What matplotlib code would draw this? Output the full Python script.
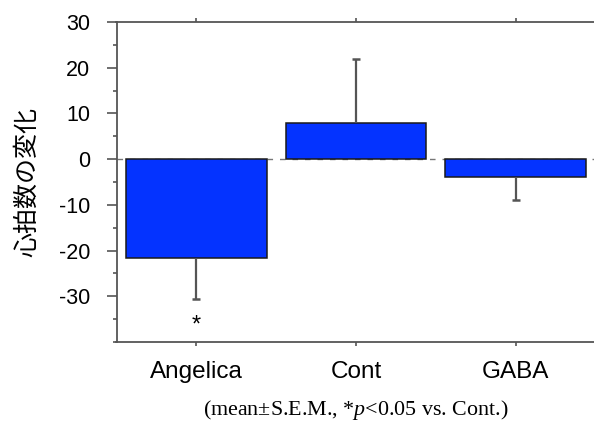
import matplotlib
matplotlib.use('Agg')
import matplotlib.pyplot as plt
from matplotlib.ticker import MultipleLocator

plt.rcParams['font.family'] = ['Liberation Sans', 'Noto Sans CJK JP', 'DejaVu Sans']
plt.rcParams['mathtext.fontset'] = 'custom'
plt.rcParams['mathtext.rm'] = 'Liberation Serif'
plt.rcParams['mathtext.it'] = 'Liberation Serif:italic'

# data
groups = ['Angelica', 'Cont', 'GABA']
means = [-21.7, 8.0, -3.8]
sems = [9.0, 13.9, 5.1]
signif = ['*', '', '']
ylabel = '心拍数の変化'
footnote = '(mean±S.E.M., *$\\it{p}$<0.05 vs. Cont.)'

BAR = '#0433FF'
AXC = '#555555'

fig = plt.figure(figsize=(5.94, 4.25), dpi=100)
ax = fig.add_axes([116.5 / 594, 83 / 425, 479 / 594, 320 / 425])

x = list(range(len(groups)))
ax.axhline(0, color='#777777', lw=1.0, ls=(0, (4, 5)), zorder=1)
ax.bar(x, means, width=0.88, color=BAR, edgecolor='#1a1a1a', linewidth=1.1, zorder=2)

# one-sided error bars (away from zero)
ends = [m + s if m > 0 else m - s for m, s in zip(means, sems)]
ax.vlines(x, means, ends, color='#555555', lw=1.6, zorder=3)
ax.plot(x, ends, ls='none', marker='_', ms=6, mew=1.8, color='#555555', zorder=3)

for xi, s in zip(x, signif):
    if s:
        ax.text(xi, -36.3, s, ha='center', va='center', fontsize=17, zorder=4)

ax.set_xlim(-0.5, 2.5)
ax.set_ylim(-40, 30)
ax.set_xticks(x)
ax.set_xticklabels(groups, fontsize=17.5)
ax.set_yticks([-30, -20, -10, 0, 10, 20, 30])
ax.set_yticklabels(['-30', '-20', '-10', '0', '10', '20', '30'], fontsize=15.5)
ax.yaxis.set_minor_locator(MultipleLocator(5))

ax.spines['right'].set_visible(False)
for side in ['left', 'top', 'bottom']:
    ax.spines[side].set_color(AXC)
    ax.spines[side].set_linewidth(1.3)

ax.tick_params(axis='y', which='major', direction='out', length=7, width=1.2, color=AXC, pad=12)
ax.tick_params(axis='y', which='minor', direction='out', length=3, width=1.2, color=AXC)
ax.tick_params(axis='x', which='major', direction='out', length=3, width=1.2, color=AXC,
               top=True, pad=11)

ax.set_ylabel(ylabel, fontsize=18, family=['Noto Sans CJK JP', 'DejaVu Sans'])
ax.yaxis.set_label_coords(-0.16, 0.5)

fig.text(356 / 594, 15 / 425, footnote, ha='center', va='center', fontsize=15.8,
         family='Liberation Serif')

plt.savefig('out.png', dpi=100)
